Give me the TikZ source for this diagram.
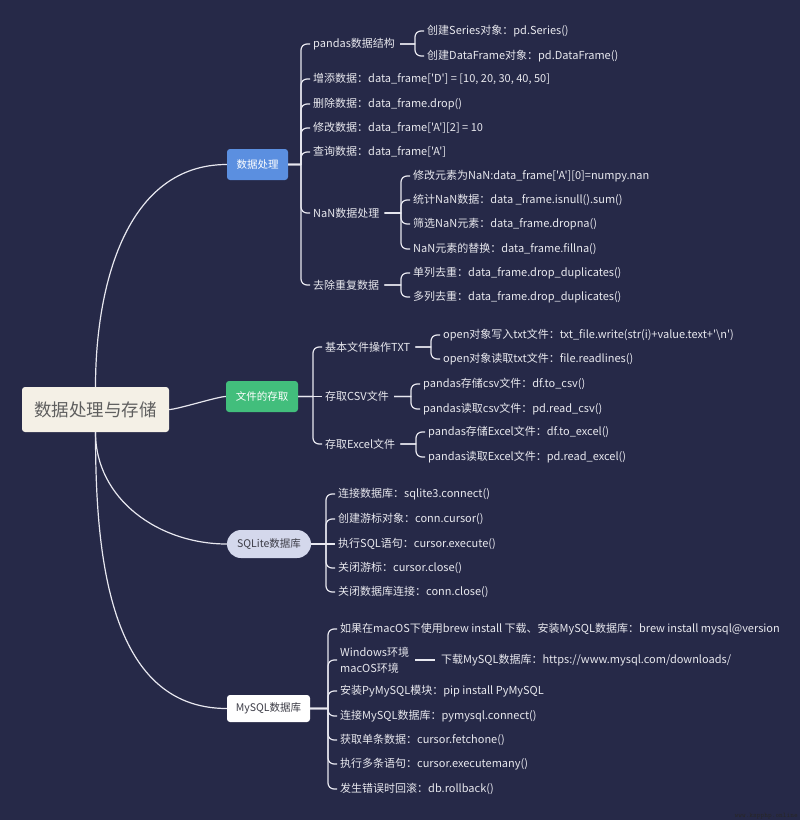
\documentclass[tikz,border=0pt]{standalone}
\usepackage{fontspec}
\setmainfont{Noto Sans CJK SC}[Ligatures=TeXOff]
\usetikzlibrary{calc}
\definecolor{bgc}{RGB}{38,41,72}
\definecolor{linec}{RGB}{232,232,240}
\definecolor{txtc}{RGB}{232,232,238}
\definecolor{bluec}{RGB}{91,143,224}
\definecolor{greenc}{RGB}{66,190,124}
\definecolor{lavc}{RGB}{212,216,236}
\definecolor{creamc}{RGB}{244,240,230}
\definecolor{rootc}{RGB}{95,95,95}
\definecolor{darkc}{RGB}{60,60,70}
\newcommand\lnkU[3][0]{\draw[conn] let \p1=($(#2.east)+(#1,0)$), \p2=(#3.west) in
  (\p1) -- (\x2-9,\y1) -- (\x2-9,\y2-6) to[out=90,in=180] (\x2-3,\y2) -- (\p2);}
\newcommand\lnkD[3][0]{\draw[conn] let \p1=($(#2.east)+(#1,0)$), \p2=(#3.west) in
  (\p1) -- (\x2-9,\y1) -- (\x2-9,\y2+6) to[out=-90,in=180] (\x2-3,\y2) -- (\p2);}
\newcommand\lnkS[3][0]{\draw[conn] ($(#2.east)+(#1,0)$) -- (#3.west);}
\begin{document}
\begin{tikzpicture}[x=1pt,y=1pt,
  txt/.style={anchor=west, text=txtc, inner sep=3pt, font=\fontsize{11}{16}\selectfont},
  conn/.style={draw=linec, line width=1.2pt, line join=round},
  box/.style={rounded corners=3pt, inner sep=0pt, font=\fontsize{10.5}{12}\selectfont}]
\fill[bgc] (0,0) rectangle (800,-820);
\useasboundingbox (0,0) rectangle (800,-820);

% main nodes
\node[box, fill=creamc, text=rootc, minimum width=147pt, minimum height=45pt, font=\fontsize{17.5}{20}\selectfont] (root) at (95.5,-409.5) {数据处理与存储};
\node[box, fill=bluec, text=white, minimum width=61pt, minimum height=31pt] (dp) at (257.5,-164.5) {数据处理};
\node[box, fill=greenc, text=white, minimum width=72pt, minimum height=31pt] (wj) at (262,-396.5) {文件的存取};
\node[box, fill=lavc, text=darkc, rounded corners=14pt, minimum width=84pt, minimum height=28pt] (sq) at (269,-544) {SQLite数据库};
\node[box, fill=white, text=darkc, minimum width=83pt, minimum height=27pt] (my) at (268.5,-708.5) {MySQL数据库};

\draw[conn] (root.north) to[out=90,in=180] (dp.west);
\draw[conn] (root.east) to[out=0,in=180,looseness=0.35] (wj.west);
\draw[conn] (root.south) to[out=-90,in=180] (sq.west);
\draw[conn] (root.south) to[out=-90,in=180] (my.west);

% branch 1
\node[txt] (b1a) at (310,-44) {pandas数据结构};
\node[txt] (b1a1) at (424,-31) {创建Series对象：pd.Series()};
\node[txt] (b1a2) at (424,-56) {创建DataFrame对象：pd.DataFrame()};
\node[txt] (b1b) at (310,-79) {增添数据：data\_frame['D'] = [10, 20, 30, 40, 50]};
\node[txt] (b1c) at (310,-104) {删除数据：data\_frame.drop()};
\node[txt] (b1d) at (310,-128) {修改数据：data\_frame['A'][2] = 10};
\node[txt] (b1e) at (310,-152) {查询数据：data\_frame['A']};
\node[txt] (b1f) at (310,-213) {NaN数据处理};
\node[txt] (b1f1) at (410,-176) {修改元素为NaN:data\_frame['A'][0]=numpy.nan};
\node[txt] (b1f2) at (410,-200) {统计NaN数据：data \_frame.isnull().sum()};
\node[txt] (b1f3) at (410,-224) {筛选NaN元素：data\_frame.dropna()};
\node[txt] (b1f4) at (410,-249) {NaN元素的替换：data\_frame.fillna()};
\node[txt] (b1g) at (310,-285) {去除重复数据};
\node[txt] (b1g1) at (410,-273) {单列去重：data\_frame.drop\_duplicates()};
\node[txt] (b1g2) at (410,-297) {多列去重：data\_frame.drop\_duplicates()};

\lnkU{dp}{b1a} \lnkU{dp}{b1b} \lnkU{dp}{b1c} \lnkU{dp}{b1d} \lnkU{dp}{b1e}
\lnkD{dp}{b1f} \lnkD{dp}{b1g}
\lnkU[2]{b1a}{b1a1} \lnkD[2]{b1a}{b1a2}
\lnkU[2]{b1f}{b1f1} \lnkU[2]{b1f}{b1f2} \lnkD[2]{b1f}{b1f3} \lnkD[2]{b1f}{b1f4}
\lnkU[2]{b1g}{b1g1} \lnkD[2]{b1g}{b1g2}

% branch 2
\node[txt] (b2a) at (322,-347) {基本文件操作TXT};
\node[txt] (b2a1) at (440,-335) {open对象写入txt文件：txt\_file.write(str(i)+value.text+'\textbackslash n')};
\node[txt] (b2a2) at (440,-359) {open对象读取txt文件：file.readlines()};
\node[txt] (b2b) at (322,-396.5) {存取CSV文件};
\node[txt] (b2b1) at (420,-384) {pandas存储csv文件：df.to\_csv()};
\node[txt] (b2b2) at (420,-409) {pandas读取csv文件：pd.read\_csv()};
\node[txt] (b2c) at (322,-444) {存取Excel文件};
\node[txt] (b2c1) at (425,-432) {pandas存储Excel文件：df.to\_excel()};
\node[txt] (b2c2) at (425,-457) {pandas读取Excel文件：pd.read\_excel()};

\lnkU{wj}{b2a} \lnkS{wj}{b2b} \lnkD{wj}{b2c}
\lnkU[2]{b2a}{b2a1} \lnkD[2]{b2a}{b2a2}
\lnkU[2]{b2b}{b2b1} \lnkD[2]{b2b}{b2b2}
\lnkU[2]{b2c}{b2c1} \lnkD[2]{b2c}{b2c2}

% branch 3
\node[txt] (b3a) at (335,-494) {连接数据库：sqlite3.connect()};
\node[txt] (b3b) at (335,-519) {创建游标对象：conn.cursor()};
\node[txt] (b3c) at (335,-544) {执行SQL语句：cursor.execute()};
\node[txt] (b3d) at (335,-568) {关闭游标：cursor.close()};
\node[txt] (b3e) at (335,-592) {关闭数据库连接：conn.close()};
\lnkU{sq}{b3a} \lnkU{sq}{b3b} \lnkS{sq}{b3c} \lnkD{sq}{b3d} \lnkD{sq}{b3e}

% branch 4
\node[txt] (b4a) at (337,-629) {如果在macOS下使用brew install 下载、安装MySQL数据库：brew install mysql@version};
\node[txt, align=left] (b4b) at (337,-660) {Windows环境\\macOS环境};
\node[txt] (b4b1) at (438,-660) {下载MySQL数据库：https://www.mysql.com/downloads/};
\node[txt] (b4c) at (337,-691) {安装PyMySQL模块：pip install PyMySQL};
\node[txt] (b4d) at (337,-716) {连接MySQL数据库：pymysql.connect()};
\node[txt] (b4e) at (337,-740) {获取单条数据：cursor.fetchone()};
\node[txt] (b4f) at (337,-764) {执行多条语句：cursor.executemany()};
\node[txt] (b4g) at (337,-789) {发生错误时回滚：db.rollback()};
\lnkU{my}{b4a} \lnkU{my}{b4b} \lnkU{my}{b4c}
\lnkD{my}{b4d} \lnkD{my}{b4e} \lnkD{my}{b4f} \lnkD{my}{b4g}
\draw[conn] ($(b4b.east)+(3,0)$) -- ($(b4b1.west)+(-3,0)$);

\node[anchor=south east, inner sep=1pt, font=\ttfamily\fontsize{7}{8}\selectfont, text=black!85] (wm) at (799,-820) {www.kspphp.online};
\end{tikzpicture}
\end{document}
